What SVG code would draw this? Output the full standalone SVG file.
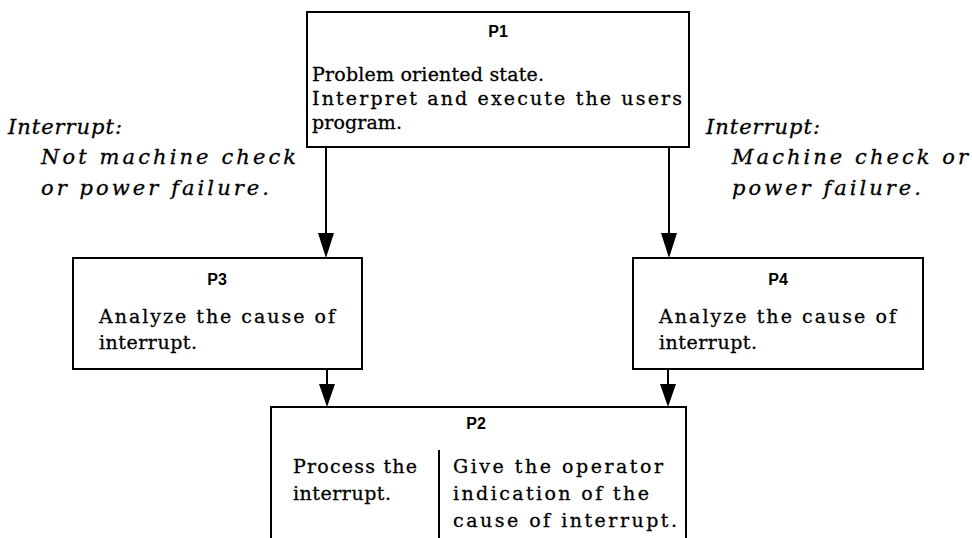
<svg xmlns="http://www.w3.org/2000/svg" width="972" height="538" viewBox="0 0 972 538">
<style>
.box{fill:#fff;stroke:#000;stroke-width:2}
.lbl{font-family:"Liberation Sans",Arial,sans-serif;font-weight:bold;font-size:16px;text-anchor:middle;fill:#000}
.t{font-family:"DejaVu Serif","Liberation Serif",serif;font-size:19px;fill:#000;stroke:#000;stroke-width:0.3}
.it{font-family:"DejaVu Serif","Liberation Serif",serif;font-style:italic;font-size:21px;fill:#000;stroke:#000;stroke-width:0.3}
.c{stroke:#000;stroke-width:2;fill:none}
.head{fill:#000}
</style>
<rect width="972" height="538" fill="#fff"/>
<g id="connectors">
<path class="c" d="M326,147 V234"/>
<path class="head" d="M318,233 L334,233 L326,258 Z"/>
<path class="c" d="M669,147 V234"/>
<path class="head" d="M661,233 L677,233 L669,258 Z"/>
<path class="c" d="M327,369 V386"/>
<path class="head" d="M319,384 L335,384 L327,407 Z"/>
<path class="c" d="M668,369 V386"/>
<path class="head" d="M660,384 L676,384 L668,407 Z"/>
</g>
<g id="P1">
<rect class="box" x="307" y="12" width="382" height="135"/>
<text class="lbl" x="498" y="37">P1</text>
<text class="t" x="312" y="81" textLength="232" lengthAdjust="spacing">Problem oriented state.</text>
<text class="t" x="312" y="105" textLength="370" lengthAdjust="spacing">Interpret and execute the users</text>
<text class="t" x="312" y="129" textLength="90" lengthAdjust="spacing">program.</text>
</g>
<g id="label-left">
<text class="it" x="8" y="134" textLength="114" lengthAdjust="spacing">Interrupt:</text>
<text class="it" x="41" y="164" textLength="255" lengthAdjust="spacing">Not machine check</text>
<text class="it" x="41" y="195" textLength="228" lengthAdjust="spacing">or power failure.</text>
</g>
<g id="label-right">
<text class="it" x="706" y="134" textLength="114" lengthAdjust="spacing">Interrupt:</text>
<text class="it" x="732" y="164" textLength="236" lengthAdjust="spacing">Machine check or</text>
<text class="it" x="732" y="195" textLength="189" lengthAdjust="spacing">power failure.</text>
</g>
<g id="P3">
<rect class="box" x="73" y="258" width="289" height="111"/>
<text class="lbl" x="217" y="285">P3</text>
<text class="t" x="99" y="323" textLength="236" lengthAdjust="spacing">Analyze the cause of</text>
<text class="t" x="99" y="349" textLength="98" lengthAdjust="spacing">interrupt.</text>
</g>
<g id="P4">
<rect class="box" x="633" y="258" width="290" height="111"/>
<text class="lbl" x="778" y="285">P4</text>
<text class="t" x="659" y="323" textLength="237" lengthAdjust="spacing">Analyze the cause of</text>
<text class="t" x="659" y="349" textLength="98" lengthAdjust="spacing">interrupt.</text>
</g>
<g id="P2">
<rect class="box" x="271" y="407" width="415" height="150"/>
<text class="lbl" x="476" y="429">P2</text>
<path class="c" d="M439,450 V540"/>
<text class="t" x="293" y="473" textLength="124" lengthAdjust="spacing">Process the</text>
<text class="t" x="293" y="500" textLength="98" lengthAdjust="spacing">interrupt.</text>
<text class="t" x="453" y="473" textLength="210" lengthAdjust="spacing">Give the operator</text>
<text class="t" x="453" y="500" textLength="196" lengthAdjust="spacing">indication of the</text>
<text class="t" x="453" y="527" textLength="224" lengthAdjust="spacing">cause of interrupt.</text>
</g>
</svg>
